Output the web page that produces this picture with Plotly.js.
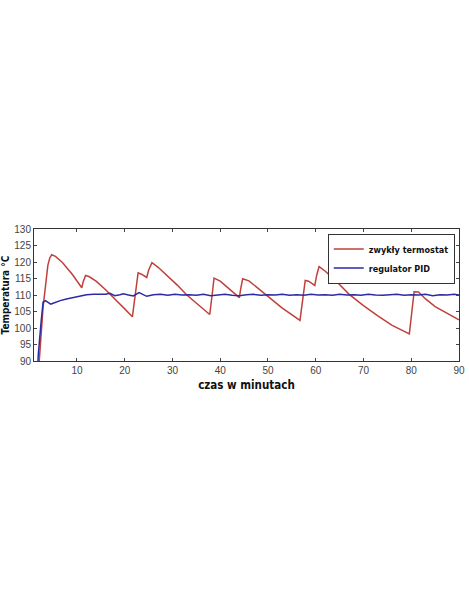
<!DOCTYPE html>
<html>
<head>
<meta charset="utf-8">
<script src="https://cdn.plot.ly/plotly-3.0.1.min.js"></script>
<style>html,body{margin:0;padding:0;background:#fff;}#chart{width:469px;height:610px;}</style>
</head>
<body>
<div id="chart"></div>
<script>
// Red series: ordinary thermostat
var thermoX = [1.5, 2.1, 2.9, 3.4, 3.9, 4.3, 4.7, 5.5, 7, 9, 11.0, 11.3, 11.8, 12.5, 14, 16, 18, 20, 21.6, 22.2, 22.8, 23.5, 24.6, 25.0, 25.7, 27, 29, 31, 33, 35, 37.8, 38.3, 38.7, 40, 42, 44.0, 44.3, 44.7, 46, 48, 50, 53, 56.7, 57.2, 57.8, 58.5, 59.8, 60.2, 60.7, 62, 64, 67, 70, 73, 76, 79.6, 80.1, 80.6, 81.5, 83, 85, 87.5, 90];
var thermoY = [80, 90, 106.3, 113.5, 119, 121.2, 122.2, 121.7, 119.8, 116.3, 112.2, 114.0, 115.9, 115.6, 114.2, 111.6, 108.8, 105.8, 103.4, 110, 116.7, 116.3, 115.3, 117.5, 119.8, 118.4, 115.8, 113, 110, 107.5, 104.1, 110, 115.1, 114.2, 111.8, 109.2, 112, 114.9, 114.3, 112, 109.5, 106, 102.3, 108, 114.4, 114.2, 112.9, 116, 118.6, 117.2, 114.6, 110.2, 106.8, 103.7, 100.8, 98.2, 105, 111.0, 110.9, 108.8, 106.5, 104.5, 102.5];
// Blue series: PID controller
var pidX = [1.5, 1.9, 2.5, 2.9, 3.4, 4.0, 4.5, 5.0, 5.7, 6.5, 7.8, 9, 9.9, 11, 12, 13.5, 14.8, 16, 16.9, 17.9, 19, 19.7, 20.8, 21.8, 23, 24.6, 26, 27.5, 29, 30.5, 32, 33.5, 35, 36.5, 38, 39.5, 41, 42.5, 44, 45.5, 47, 48.5, 50, 51.5, 53, 54.5, 56, 57.5, 59, 60.5, 62, 63.5, 65, 66.5, 68, 69.5, 71, 72.5, 74, 75.5, 77, 78.5, 80, 81.5, 83, 84.5, 86, 87.5, 89, 90];
var pidY = [80, 92, 102, 107.8, 108.3, 107.8, 107.2, 107.5, 107.9, 108.3, 108.8, 109.2, 109.5, 109.8, 110.1, 110.2, 110.3, 110.2, 110.5, 109.8, 110.1, 110.4, 110.0, 109.7, 110.7, 109.6, 110.1, 110.2, 109.9, 110.2, 110.0, 110.1, 109.9, 110.2, 109.8, 110.1, 110.2, 109.9, 109.8, 110.1, 110.2, 109.9, 110.1, 110.0, 110.2, 109.9, 110.1, 109.9, 110.2, 110.0, 110.1, 109.9, 110.2, 110.0, 110.1, 109.9, 110.2, 110.0, 109.9, 110.1, 110.2, 109.9, 110.1, 110.0, 110.2, 109.8, 110.1, 110.0, 110.2, 110.0];
var xTicks = [10, 20, 30, 40, 50, 60, 70, 80, 90];
var yTicks = [90, 95, 100, 105, 110, 115, 120, 125, 130];
var seriesNames = ['zwykły termostat', 'regulator PID'];

var narrow = '"DejaVu Sans Condensed", "Liberation Sans Narrow", "Arial Narrow", sans-serif';
var traces = [
  {x: thermoX, y: thermoY, type: 'scatter', mode: 'lines', name: seriesNames[0],
   line: {color: '#c0403c', width: 1.5}},
  {x: pidX, y: pidY, type: 'scatter', mode: 'lines', name: seriesNames[1],
   line: {color: '#2b2ba3', width: 1.5}}
];
var layout = {
  width: 469, height: 610,
  margin: {l: 34, r: 10, t: 229, b: 249},
  paper_bgcolor: '#fff', plot_bgcolor: '#fff',
  showlegend: true,
  legend: {x: 0.99, y: 0.965, xanchor: 'right', yanchor: 'top',
    bordercolor: '#333', borderwidth: 1, bgcolor: '#fff',
    font: {family: narrow, size: 9, color: '#111', weight: 'bold'},
    tracegroupgap: 0, itemwidth: 30},
  xaxis: {range: [1, 90], tickvals: xTicks, ticks: 'inside', ticklen: 3, tickcolor: '#444',
    showline: true, linecolor: '#333', linewidth: 1, mirror: 'ticks', showgrid: false, zeroline: false,
    tickfont: {family: '"Liberation Sans", Arial, sans-serif', size: 10, color: '#444'},
    title: {text: 'czas w minutach', standoff: 5, font: {family: narrow, size: 11.5, color: '#111', weight: 'bold'}}},
  yaxis: {range: [90, 130], tickvals: yTicks, ticks: 'inside', ticklen: 3, tickcolor: '#444',
    showline: true, linecolor: '#333', linewidth: 1, mirror: 'ticks', showgrid: false, zeroline: false,
    tickfont: {family: '"Liberation Sans", Arial, sans-serif', size: 10, color: '#444'},
    title: {text: 'Temperatura °C', standoff: 5, font: {family: narrow, size: 10, color: '#111', weight: 'bold'}}}
};
Plotly.newPlot('chart', traces, layout, {displayModeBar: false, responsive: false});
</script>
</body>
</html>
